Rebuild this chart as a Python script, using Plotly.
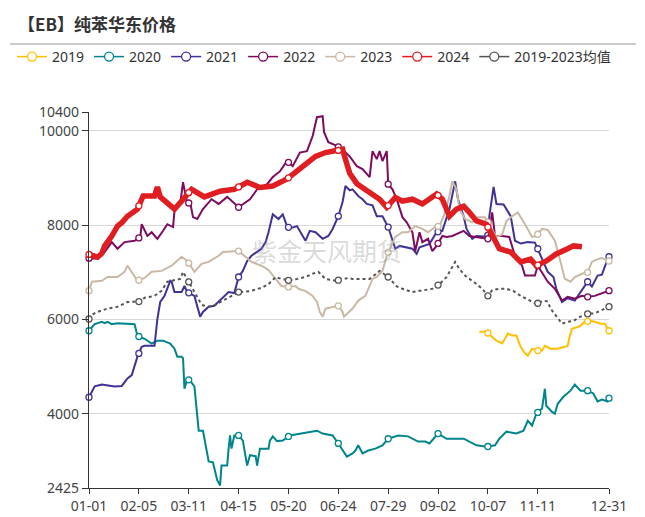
import numpy as np
import pandas as pd
import plotly.graph_objects as go

# ---------------- data (day offset from 01-01 in a 366-day year, value) ----------------
days_2019 = [274, 279, 283, 286, 290, 291, 294, 297, 300, 303, 306, 308, 311, 314, 318, 320, 324, 329, 333, 336, 337, 339, 343, 345, 348, 352, 355, 359, 362, 364, 365]
vals_2019 = [5740, 5740, 5630, 5550, 5490, 5540, 5700, 5660, 5660, 5420, 5280, 5230, 5380, 5340, 5340, 5440, 5380, 5380, 5420, 5440, 5590, 5800, 5840, 5870, 5950, 5970, 5950, 5910, 5910, 5800, 5760]

days_2020 = [0, 4, 9, 11, 13, 16, 20, 32, 34, 39, 44, 48, 52, 57, 60, 62, 65, 66, 67, 69, 71, 74, 77, 80, 84, 87, 90, 92, 93, 97, 98, 99, 100, 102, 105, 108, 111, 113, 117, 118, 120, 126, 127, 129, 132, 136, 141, 148, 155, 160, 164, 169, 171, 175, 178, 181, 185, 187, 189, 192, 196, 201, 206, 210, 217, 224, 231, 236, 239, 245, 251, 263, 272, 279, 285, 288, 293, 300, 305, 308, 311, 314, 318, 320, 321, 325, 327, 329, 333, 338, 341, 345, 350, 354, 357, 360, 364, 365]
vals_2020 = [5760, 5900, 5950, 5920, 5950, 5900, 5920, 5900, 5650, 5590, 5490, 5550, 5550, 5490, 5380, 5210, 5210, 5180, 4530, 4740, 4700, 4580, 3640, 3640, 2990, 2970, 2590, 2480, 2900, 2900, 3260, 3540, 3260, 3540, 3540, 3430, 2900, 3120, 3100, 2900, 3260, 3260, 3430, 3520, 3420, 3430, 3540, 3580, 3620, 3640, 3580, 3540, 3540, 3370, 3220, 3090, 3160, 3220, 3330, 3160, 3220, 3260, 3330, 3470, 3540, 3520, 3410, 3410, 3370, 3580, 3470, 3470, 3330, 3300, 3330, 3470, 3620, 3580, 3640, 3850, 3750, 4000, 4110, 4530, 4170, 4040, 4000, 4210, 4360, 4490, 4620, 4490, 4490, 4430, 4260, 4300, 4260, 4330]

days_2021 = [0, 4, 9, 13, 18, 23, 27, 30, 32, 34, 37, 39, 46, 48, 50, 53, 57, 58, 60, 65, 67, 69, 74, 78, 80, 84, 88, 93, 98, 102, 105, 108, 111, 114, 118, 121, 124, 126, 129, 133, 136, 139, 141, 146, 150, 152, 155, 159, 164, 168, 171, 175, 178, 180, 183, 185, 189, 192, 195, 199, 202, 206, 210, 213, 215, 218, 223, 227, 230, 232, 239, 244, 248, 253, 257, 259, 263, 265, 269, 272, 277, 280, 281, 284, 286, 291, 296, 299, 303, 308, 313, 315, 318, 320, 322, 326, 328, 332, 336, 341, 346, 350, 353, 357, 360, 362, 364, 365]
vals_2021 = [4350, 4580, 4620, 4600, 4580, 4590, 4750, 4820, 5020, 5210, 5420, 5440, 5440, 6010, 6370, 6500, 6820, 6800, 6580, 6580, 6710, 6580, 6500, 6060, 6160, 6270, 6290, 6440, 6580, 6560, 6900, 7030, 7240, 7350, 7430, 7500, 7640, 7850, 8230, 8130, 8230, 7980, 7930, 7980, 7770, 7670, 7880, 7850, 7710, 7770, 7920, 8190, 8490, 8830, 8740, 8760, 8620, 8550, 8450, 8420, 8190, 8190, 7960, 7710, 7500, 7560, 7530, 7500, 7390, 7530, 7600, 7850, 7880, 8340, 8930, 8550, 8190, 7920, 7710, 7770, 7760, 7790, 8190, 8810, 8450, 8440, 8190, 7670, 7610, 7640, 7630, 7500, 7300, 7140, 7010, 6900, 6650, 6370, 6450, 6400, 6610, 6800, 6700, 6930, 6950, 7140, 7280, 7330]

days_2022 = [0, 6, 11, 16, 20, 25, 32, 36, 37, 41, 44, 48, 52, 55, 59, 60, 64, 66, 69, 71, 73, 76, 80, 86, 91, 97, 105, 113, 118, 125, 129, 134, 139, 143, 148, 153, 157, 160, 164, 165, 168, 174, 178, 183, 188, 192, 197, 199, 202, 204, 206, 209, 210, 213, 216, 220, 223, 227, 229, 232, 234, 238, 241, 244, 248, 251, 255, 263, 267, 272, 280, 283, 285, 290, 295, 299, 304, 306, 313, 315, 322, 327, 332, 336, 341, 346, 350, 355, 360, 365]
vals_2022 = [7300, 7290, 7430, 7640, 7500, 7640, 7670, 7750, 8020, 7770, 7850, 7710, 7880, 8020, 7960, 8300, 8450, 8910, 8450, 8490, 8170, 8130, 8340, 8550, 8450, 8600, 8380, 8550, 8760, 8870, 9020, 9140, 9360, 9250, 9540, 9570, 9890, 10290, 10310, 9970, 9760, 9680, 9600, 9460, 9250, 9190, 9020, 9570, 9400, 9570, 9360, 9570, 8870, 8760, 8550, 8170, 8060, 7850, 7450, 7850, 7640, 7710, 7450, 7560, 7770, 7750, 7770, 7880, 7770, 7750, 7710, 8270, 7770, 7770, 7750, 7350, 7140, 6930, 6930, 7140, 6800, 6650, 6400, 6480, 6440, 6500, 6480, 6500, 6550, 6610]

days_2023 = [0, 2, 9, 13, 20, 25, 27, 31, 34, 39, 44, 51, 58, 65, 69, 74, 79, 84, 91, 94, 101, 105, 109, 114, 121, 126, 131, 135, 140, 145, 147, 152, 157, 160, 162, 164, 166, 171, 175, 178, 179, 185, 189, 194, 197, 199, 202, 206, 209, 213, 215, 220, 224, 229, 234, 238, 243, 246, 250, 253, 255, 258, 260, 264, 269, 273, 278, 283, 286, 290, 293, 297, 301, 306, 311, 314, 318, 322, 327, 331, 334, 338, 341, 346, 350, 353, 357, 360, 364, 365]
vals_2023 = [6610, 6800, 6820, 6900, 6900, 7010, 7140, 6970, 6820, 6880, 7010, 7030, 7140, 7330, 7240, 7010, 7180, 7220, 7350, 7430, 7450, 7450, 7350, 7220, 7140, 7050, 6860, 6710, 6690, 6710, 6650, 6600, 6500, 6370, 6160, 6060, 6230, 6270, 6290, 6160, 6060, 6230, 6400, 6500, 6710, 6860, 6900, 7030, 7350, 7640, 7750, 7850, 7850, 7980, 7920, 7850, 7960, 7980, 8270, 8620, 8930, 8760, 8340, 8130, 8060, 8170, 8170, 7900, 7750, 7800, 8090, 8190, 8270, 8020, 7750, 7770, 7920, 7900, 7670, 7220, 6860, 6800, 6900, 6970, 7000, 7220, 7280, 7300, 7240, 7240]

days_2024 = [0, 4, 6, 9, 11, 16, 20, 23, 27, 34, 38, 46, 48, 50, 55, 60, 65, 72, 81, 87, 92, 102, 111, 120, 129, 139, 148, 152, 159, 166, 173, 178, 180, 183, 188, 197, 204, 209, 215, 220, 227, 234, 244, 248, 253, 258, 263, 267, 272, 279, 283, 288, 296, 303, 310, 314, 321, 328, 336, 340, 346]
vals_2024 = [7380, 7350, 7320, 7400, 7560, 7770, 7980, 8050, 8190, 8340, 8620, 8620, 8810, 8600, 8450, 8340, 8510, 8760, 8600, 8660, 8720, 8760, 8910, 8800, 8830, 8980, 9190, 9290, 9460, 9540, 9570, 9610, 9400, 9100, 8880, 8700, 8550, 8380, 8590, 8510, 8550, 8450, 8660, 8550, 8190, 8340, 8400, 8270, 8090, 8020, 7770, 7500, 7430, 7220, 7280, 7140, 7240, 7390, 7500, 7560, 7540]

days_avg = [0, 2, 6, 13, 20, 27, 36, 39, 46, 51, 55, 60, 64, 66, 69, 74, 76, 78, 80, 84, 88, 94, 97, 105, 113, 122, 126, 131, 135, 140, 146, 152, 157, 161, 166, 173, 178, 182, 185, 190, 197, 204, 210, 216, 220, 227, 234, 241, 246, 251, 257, 260, 265, 270, 276, 280, 283, 288, 293, 298, 303, 310, 314, 319, 322, 324, 328, 332, 336, 340, 345, 350, 355, 359, 365]
vals_avg = [6010, 6100, 6160, 6230, 6270, 6370, 6380, 6460, 6500, 6610, 6800, 6830, 6860, 7010, 6850, 6580, 6480, 6370, 6300, 6270, 6300, 6400, 6440, 6580, 6600, 6680, 6750, 6900, 6860, 6830, 6860, 6900, 6970, 7010, 6860, 6820, 6850, 6880, 6860, 6860, 6860, 7030, 6900, 6700, 6650, 6580, 6620, 6650, 6750, 6900, 7220, 7070, 6900, 6800, 6650, 6500, 6620, 6650, 6650, 6600, 6500, 6400, 6330, 6400, 6380, 6230, 6060, 5910, 5950, 5970, 6060, 6120, 6130, 6190, 6270]

marker_days = [0, 35, 70, 105, 140, 175, 210, 245, 280, 315, 350, 365]
tick_days = [0, 35, 70, 105, 140, 175, 210, 245, 280, 315, 365]
y_ticks = [2425, 4000, 6000, 8000, 10000, 10400]

series = [
    ("2019", days_2019, vals_2019, "#FFC000", 2, "solid"),
    ("2020", days_2020, vals_2020, "#00858C", 2, "solid"),
    ("2021", days_2021, vals_2021, "#3F3396", 2, "solid"),
    ("2022", days_2022, vals_2022, "#7D0B5F", 2, "solid"),
    ("2023", days_2023, vals_2023, "#C9B9A4", 2, "solid"),
    ("2024", days_2024, vals_2024, "#E01E21", 5.5, "solid"),
    ("2019-2023均值", days_avg, vals_avg, "#555555", 2, "dot"),
]

base = pd.Timestamp("2024-01-01")
def to_dates(d):
    return [base + pd.Timedelta(days=int(v)) for v in d]

fig = go.Figure()
for name, d, v, color, w, dash in series:
    fig.add_trace(go.Scatter(
        x=to_dates(d), y=v, mode="lines", name=name,
        line=dict(color=color, width=w, dash=dash),
        showlegend=False, hoverinfo="skip"))
    md = [m for m in marker_days if d[0] <= m <= d[-1]]
    mv = list(np.interp(md, d, v))
    fig.add_trace(go.Scatter(
        x=to_dates(md), y=mv, mode="markers", showlegend=False,
        marker=dict(symbol="circle", size=6, color="white",
                    line=dict(color=color, width=1.3)),
        cliponaxis=False, hoverinfo="skip"))
    # legend entry
    fig.add_trace(go.Scatter(
        x=[None], y=[None], mode="lines+markers", name=name,
        line=dict(color=color, width=1.5),
        marker=dict(symbol="circle", size=9, color="white",
                    line=dict(color=color, width=1.3))))

FONT = "Noto Sans, Noto Sans CJK SC, sans-serif"
fig.update_layout(
    width=645, height=517,
    margin=dict(l=89, r=36, t=112, b=29, autoexpand=False),
    paper_bgcolor="white", plot_bgcolor="white",
    font=dict(family=FONT, color="#333333", size=14),
    title=dict(text="<b>【EB】纯苯华东价格</b>", x=18/645, xanchor="left",
               y=1-25/517, yanchor="middle",
               font=dict(family="Noto Sans CJK SC", size=17, color="#333333")),
    legend=dict(orientation="h", x=(12-89)/520, xanchor="left",
                y=(488-57)/376, yanchor="middle",
                font=dict(size=14, color="#333333"),
                itemwidth=30, tracegroupgap=0, bgcolor="rgba(0,0,0,0)"),
    xaxis=dict(type="date",
               range=[base, base + pd.Timedelta(days=365)],
               tickvals=to_dates(tick_days),
               ticktext=[(base + pd.Timedelta(days=t)).strftime("%m-%d") for t in tick_days],
               showgrid=False, showline=True, linecolor="#333333", linewidth=1.2,
               ticks="outside", ticklen=5, tickcolor="#333333",
               tickfont=dict(size=14, color="#444444"), zeroline=False),
    yaxis=dict(range=[2425, 10400], tickvals=y_ticks,
               ticktext=[str(t) for t in y_ticks],
               showgrid=True, gridcolor="#d9d9d9", gridwidth=1,
               showline=True, linecolor="#333333", linewidth=1.2,
               ticks="outside", ticklen=6, tickcolor="#333333",
               tickfont=dict(size=14, color="#444444"), zeroline=False),
    shapes=[dict(type="line", xref="paper", yref="paper",
                 x0=(10-89)/520, x1=(636-89)/520,
                 y0=(488-44)/376, y1=(488-44)/376,
                 line=dict(color="#bbbbbb", width=1.5))],
    annotations=[dict(text="紫金天风期货", xref="paper", yref="paper",
                      x=(327-89)/520, y=(488-250)/376, showarrow=False,
                      font=dict(family="Noto Sans CJK SC", size=25,
                                color="rgba(150,150,150,0.35)"))],
)

fig.write_html("out.html", config={"displayModeBar": False},
               post_script="document.body.style.margin='0px';document.body.style.overflow='hidden';")
